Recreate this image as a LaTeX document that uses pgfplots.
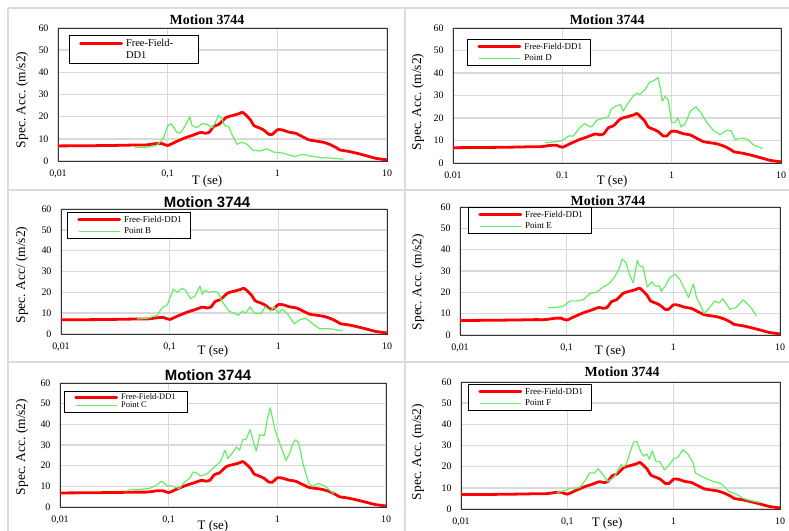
\documentclass[border=0pt]{standalone}
\usepackage{pgfplots}
\pgfplotsset{compat=1.18}
\usepackage{pgfplotstable}
\usepackage{fontspec}
\setmainfont{Liberation Serif}
\setsansfont{Liberation Sans}

\definecolor{ffred}{RGB}{255,0,0}
\definecolor{ptgreen}{RGB}{105,235,105}
\definecolor{sepgray}{RGB}{220,220,220}
\definecolor{gridgray}{RGB}{217,217,217}

% Free-field response spectrum (same in every panel)
\pgfplotstableread{
T A
0.010 6.8
0.020 6.9
0.030 7.0
0.040 7.1
0.050 7.2
0.062 7.2
0.070 7.5
0.077 7.8
0.088 7.9
0.100 7.0
0.117 8.5
0.145 10.5
0.167 11.5
0.200 12.9
0.220 12.5
0.240 13.0
0.264 15.7
0.293 16.5
0.340 19.6
0.390 20.5
0.450 21.4
0.480 22.0
0.510 21.0
0.570 18.5
0.610 16.0
0.680 15.0
0.750 14.0
0.840 12.0
0.900 12.0
1.000 14.1
1.110 14.0
1.280 13.0
1.470 12.5
1.690 11.0
1.950 9.5
2.250 9.0
2.600 8.5
3.000 7.5
3.450 6.0
3.700 5.0
4.500 4.3
5.500 3.3
6.900 2.0
7.900 1.2
10.00 0.5
}\freefield

\tikzset{
  ffline/.style={draw=ffred, line width=2.8pt, line join=round, line cap=round},
  ptline/.style={draw=ptgreen, line width=1.2pt, line join=round},
}

\pgfplotsset{
  every axis/.append style={
    scale only axis,
    anchor=south west,
    xmin=0.01, xmax=10, ymin=0, ymax=60,
    xtick={0.01,0.1,1,10},
    ytick={0,10,20,30,40,50,60},
    grid=major,
    major grid style={draw=gridgray, line width=1.4pt},
    axis line style={draw=black!80, line width=0.7pt},
    major tick length=0pt, minor tick length=0pt,
    tick label style={font=\fontsize{10}{11}\selectfont},
    xticklabel style={yshift=-5bp},
    yticklabel style={xshift=-6bp},
    legend cell align=left,
    legend style={draw=black, line width=0.8pt, fill=white, anchor=north west,
      inner xsep=0pt, inner ysep=2bp, row sep=1bp,
      font=\fontsize{9}{10}\selectfont,
      nodes={inner xsep=0pt, inner ysep=1.5bp}},
  },
  legend image code/.code={%
    \path (0bp,0bp) (54bp,0bp);
    \draw[#1] (10bp,0bp) -- (51bp,0bp);},
}

\newcommand{\lgtext}[1]{\makebox[66bp][l]{#1}}
\newcommand{\ttl}{\bfseries\fontsize{14}{15}\selectfont}
\newcommand{\ttlsans}{\sffamily\bfseries\fontsize{15}{17}\selectfont}
\newcommand{\xlab}{\fontsize{13}{14}\selectfont}
\newcommand{\ylab}{\fontsize{13.5}{15}\selectfont}

\begin{document}
\begin{tikzpicture}[x=1bp,y=1bp]
\path[use as bounding box, fill=white] (0,0) rectangle (789,531);

% ---- panel frame lines
\begin{scope}[draw=sepgray, line width=2.5bp]
  \draw (8,523) -- (789,523);
  \draw (8,523) -- (8,0);
  \draw (405,523) -- (405,0);
  \draw (8,341) -- (789,341);
  \draw (8,169) -- (789,169);
\end{scope}

% ---- top left
\begin{semilogxaxis}[at={(58bp,370bp)}, width=329bp, height=133bp,
  xticklabels={{0,01},{0,1},1,10},
  /pgf/number format/assume math mode=true,
  title={Motion 3744}, xlabel={T (se)}, ylabel={Spec.\ Acc.\ (m/s2)},
  title style={at={(axis description cs:0.453,1.060)}, anchor=center, yshift=-6bp, font=\ttl},
  xlabel style={at={(axis description cs:0.453,-0.150)}, anchor=center, font=\xlab},
  ylabel style={at={(axis description cs:-0.109,0.459)}, anchor=center, font=\ylab},
  legend style={at={(axis description cs:0.033,0.947)}, font=\fontsize{10.5}{12}\selectfont}]
\addplot[ffline, smooth, tension=0.4] table[x=T,y=A] {\freefield};
\addlegendentry{\makebox[72bp][l]{Free-Field-}}
\addlegendimage{empty legend}
\addlegendentry{DD1}
\addplot[ptline, forget plot] coordinates {
(0.050,6.2)(0.064,6.2)(0.079,7.0)(0.091,10)(0.100,16)(0.108,16.8)(0.121,13)
(0.130,12.5)(0.145,16)(0.159,20)(0.167,16)(0.185,15)(0.206,16.8)(0.230,16.5)
(0.255,15)(0.270,17)(0.290,20.5)(0.310,19.5)(0.330,16)(0.360,15.5)(0.385,12)
(0.430,7.5)(0.470,8.5)(0.530,7.5)(0.600,4.8)(0.700,4.5)(0.800,5.5)(0.930,4)
(1.15,3.5)(1.42,2)(1.70,3)(2.0,2.2)(2.5,1.5)(3.3,1.2)(4.0,0.8)};
\end{semilogxaxis}

% ---- top right
\begin{semilogxaxis}[at={(453bp,368bp)}, width=328bp, height=135bp,
  xticklabels={{0.01},{0.1},1,10},
  /pgf/number format/assume math mode=true,
  title={Motion 3744}, xlabel={T (se)}, ylabel={Spec.\ Acc.\ (m/s2)},
  title style={at={(axis description cs:0.470,1.059)}, anchor=center, yshift=-6bp, font=\ttl},
  xlabel style={at={(axis description cs:0.485,-0.133)}, anchor=center, font=\xlab},
  ylabel style={at={(axis description cs:-0.107,0.452)}, anchor=center, font=\ylab},
  legend style={at={(axis description cs:0.043,0.919)}}]
\addplot[ffline, smooth, tension=0.4] table[x=T,y=A] {\freefield};
\addlegendentry{\lgtext{Free-Field-DD1}}
\addplot[ptline] coordinates {
(0.070,9)(0.089,9.5)(0.100,10)(0.114,12)(0.126,12)(0.146,16)(0.160,17.5)
(0.180,16)(0.190,16.5)(0.206,19)(0.240,20)(0.264,20.5)(0.280,24)(0.315,25.5)
(0.340,26)(0.360,23)(0.390,26)(0.450,30)(0.480,31)(0.510,30.5)(0.570,32.5)
(0.630,36)(0.680,36.5)(0.750,38)(0.790,33)(0.820,27.5)(0.870,29.5)(0.930,28)
(1.00,18)(1.07,18)(1.14,20)(1.22,16)(1.33,17.5)(1.48,23)(1.66,25)(1.84,22.5)
(2.10,18)(2.40,14.5)(2.77,12.5)(3.17,14.5)(3.50,14.3)(3.80,10.5)(4.40,11)
(4.95,10.5)(5.60,8)(6.80,6.5)};
\addlegendentry{\lgtext{Point D}}
\end{semilogxaxis}

% ---- middle left
\begin{semilogxaxis}[at={(61bp,197bp)}, width=326bp, height=125bp,
  xticklabels={{0,01},{0,1},1,10},
  /pgf/number format/assume math mode=true,
  title={Motion 3744}, xlabel={T (se)}, ylabel={Spec.\ Acc/\ (m/s2)},
  title style={at={(axis description cs:0.448,1.056)}, anchor=center, yshift=-6bp, font=\ttlsans},
  xlabel style={at={(axis description cs:0.466,-0.136)}, anchor=center, font=\xlab},
  ylabel style={at={(axis description cs:-0.120,0.472)}, anchor=center, font=\ylab},
  legend style={at={(axis description cs:0.018,0.976)}}]
\addplot[ffline, smooth, tension=0.4] table[x=T,y=A] {\freefield};
\addlegendentry{\lgtext{Free-Field-DD1}}
\addplot[ptline] coordinates {
(0.050,7.2)(0.062,7.5)(0.077,9)(0.085,12.5)(0.095,14)(0.102,18)(0.108,21.5)
(0.118,20)(0.130,22)(0.140,21)(0.155,17)(0.170,18)(0.190,23)(0.200,19)
(0.210,21)(0.230,20)(0.250,20.5)(0.280,20)(0.300,16)(0.330,13)(0.350,11)
(0.390,10)(0.430,9)(0.470,11)(0.500,10)(0.550,13)(0.600,10)(0.690,9.8)
(0.760,13)(0.850,11)(0.910,13)(1.00,10)(1.09,12)(1.22,9.5)(1.40,5)(1.60,7)
(1.80,7.5)(2.06,5)(2.40,2.5)(3.00,2.5)(3.90,1.5)};
\addlegendentry{\lgtext{Point B}}
\end{semilogxaxis}

% ---- middle right
\begin{semilogxaxis}[at={(460bp,196bp)}, width=320bp, height=128bp,
  xticklabels={{0,01},{0,1},1,10},
  /pgf/number format/assume math mode=true,
  title={Motion 3744}, xlabel={T (se)}, ylabel={Spec.\ Acc.\ (m/s2)},
  title style={at={(axis description cs:0.4625,1.047)}, anchor=center, yshift=-6bp, font=\ttl},
  xlabel style={at={(axis description cs:0.469,-0.125)}, anchor=center, font=\xlab},
  ylabel style={at={(axis description cs:-0.131,0.414)}, anchor=center, font=\ylab},
  legend style={at={(axis description cs:0.025,1.0)}}]
\addplot[ffline, smooth, tension=0.4] table[x=T,y=A] {\freefield};
\addlegendentry{\lgtext{Free-Field-DD1}}
\addplot[ptline] coordinates {
(0.067,12.8)(0.081,13)(0.093,13.5)(0.108,16)(0.124,16)(0.143,16.5)(0.165,19.5)
(0.190,20)(0.220,22.5)(0.250,24)(0.280,27)(0.310,31)(0.330,35.5)(0.360,34)
(0.390,28)(0.420,24.5)(0.460,35)(0.480,32.5)(0.520,32)(0.570,22.5)(0.630,25)
(0.670,23)(0.740,23)(0.770,20.5)(0.840,23)(0.930,27)(1.04,28.5)(1.15,26)
(1.29,21)(1.39,17.5)(1.54,24)(1.65,17.5)(1.84,13)(1.94,10)(2.20,13)(2.45,16)
(2.70,15)(2.90,17)(3.40,12)(3.90,13)(4.50,16.5)(4.85,15)(5.40,12.5)(6.00,9)};
\addlegendentry{\lgtext{Point E}}
\end{semilogxaxis}

% ---- bottom left
\begin{semilogxaxis}[at={(60bp,24bp)}, width=326bp, height=124bp,
  xticklabels={{0,01},{0,1},1,10},
  /pgf/number format/assume math mode=true,
  title={Motion 3744}, xlabel={T (se)}, ylabel={Spec.\ Acc.\ (m/s2)},
  title style={at={(axis description cs:0.454,1.065)}, anchor=center, yshift=-6bp, font=\ttlsans},
  xlabel style={at={(axis description cs:0.469,-0.153)}, anchor=center, font=\xlab},
  ylabel style={at={(axis description cs:-0.117,0.484)}, anchor=center, font=\ylab},
  legend style={at={(axis description cs:0.012,0.935)}, row sep=0bp,
    font=\fontsize{8.5}{9}\selectfont,
    nodes={inner xsep=0pt, inner ysep=0.5bp}}]
\addplot[ffline, smooth, tension=0.4] table[x=T,y=A] {\freefield};
\addlegendentry{\lgtext{Free-Field-DD1}}
\addplot[ptline] coordinates {
(0.040,7.7)(0.047,8.5)(0.054,8.5)(0.067,9)(0.077,10.5)(0.086,12.5)(0.095,10.5)
(0.110,10)(0.125,9)(0.140,12)(0.157,14)(0.168,17)(0.180,16.5)(0.195,15)
(0.225,16)(0.260,19)(0.300,22)(0.330,27.5)(0.350,23.5)(0.390,26.5)(0.420,29)
(0.450,27.5)(0.480,32.5)(0.520,33)(0.560,37.5)(0.600,32)(0.640,27)(0.690,35)
(0.760,34.5)(0.820,44)(0.860,48)(0.910,42)(0.950,37.5)(1.05,31)(1.20,22.5)
(1.30,26)(1.40,31)(1.48,32.5)(1.57,31)(1.74,20)(1.95,11.5)(2.10,10)(2.40,11.5)
(2.76,10)(3.30,6.5)};
\addlegendentry{\lgtext{Point C}}
\end{semilogxaxis}

% ---- bottom right
\begin{semilogxaxis}[at={(461bp,22bp)}, width=319bp, height=127bp,
  xticklabels={{0,01},{0,1},1,10},
  /pgf/number format/assume math mode=true,
  title={Motion 3744}, xlabel={T (se)}, ylabel={Spec.\ Acc.\ (m/s2)},
  title style={at={(axis description cs:0.505,1.079)}, anchor=center, yshift=-6bp, font=\ttl},
  xlabel style={at={(axis description cs:0.458,-0.110)}, anchor=center, font=\xlab},
  ylabel style={at={(axis description cs:-0.135,0.449)}, anchor=center, font=\ylab},
  legend style={at={(axis description cs:0.022,0.984)}}]
\addplot[ffline, smooth, tension=0.4] table[x=T,y=A] {\freefield};
\addlegendentry{\lgtext{Free-Field-DD1}}
\addplot[ptline] coordinates {
(0.079,7.8)(0.092,8.5)(0.107,9.8)(0.130,10)(0.150,14)(0.162,17)(0.180,17)
(0.195,19)(0.210,17)(0.240,13)(0.275,15)(0.320,21)(0.340,20)(0.360,21.5)
(0.390,27)(0.420,31.5)(0.450,32)(0.490,27)(0.520,25)(0.560,26)(0.590,23.5)
(0.630,27.5)(0.680,22.5)(0.740,22.5)(0.820,18.5)(0.880,20)(0.990,23.5)
(1.10,24.5)(1.22,28)(1.36,26)(1.52,22)(1.60,17)(1.89,15)(2.35,13)(2.80,12)
(3.36,8)(3.90,7)(4.50,5)(5.20,4)(6.70,3)};
\addlegendentry{\lgtext{Point F}}
\end{semilogxaxis}
\end{tikzpicture}
\end{document}
